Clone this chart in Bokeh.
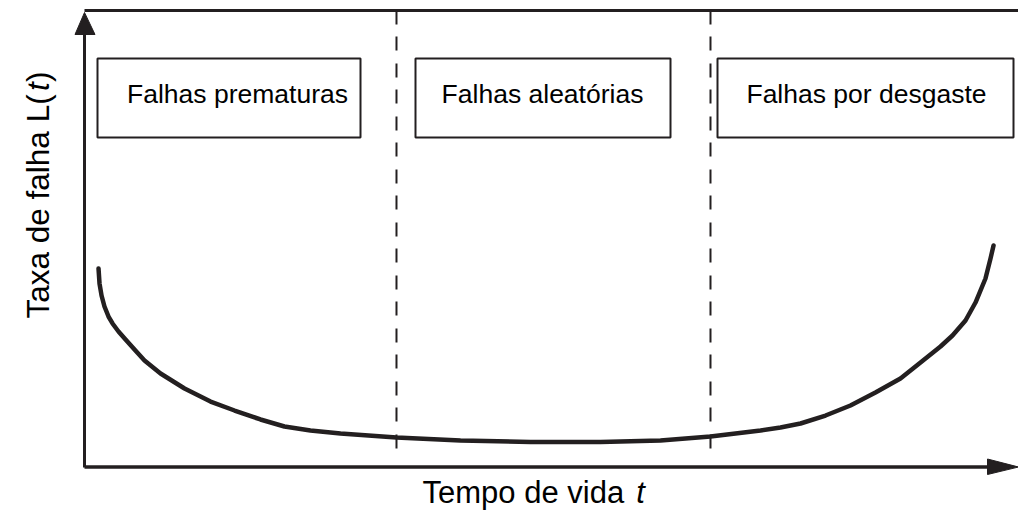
import numpy as np
from bokeh.plotting import figure
from bokeh.models import Range1d, Label
from bokeh.embed import file_html
from bokeh.resources import INLINE

# ---------------- data ----------------
time_t = [0.153, 0.164, 0.186, 0.218, 0.262, 0.306, 0.371, 0.448, 0.546, 0.655,
          0.830, 1.092, 1.376, 1.638, 1.921, 2.183, 2.467, 2.795, 3.406, 4.105,
          4.869, 5.633, 6.288, 6.834, 7.380, 7.598, 7.817, 8.090, 8.362, 8.635,
          8.908, 9.127, 9.345, 9.476, 9.618, 9.727, 9.836, 9.891, 9.924]
failure_rate = [4.342, 4.013, 3.750, 3.509, 3.289, 3.136, 2.961, 2.785, 2.566, 2.325,
                2.039, 1.711, 1.425, 1.228, 1.031, 0.877, 0.789, 0.724, 0.636, 0.570,
                0.537, 0.537, 0.570, 0.658, 0.789, 0.855, 0.943, 1.118, 1.338, 1.623,
                1.930, 2.281, 2.632, 2.873, 3.202, 3.596, 4.123, 4.561, 4.846]
phase_names = ["Falhas prematuras", "Falhas aleatórias", "Falhas por desgaste"]
phase_bounds = [3.406, 6.834]
x_title = "Tempo de vida"
y_title = "Taxa de falha L("
var_name = "t"

# ---------------- layout (page pixels -> data units) ----------------
W, H = 1018, 516
PAGE_L, PAGE_T = 0, 0
X0_PX, XSCALE = 84.0, 91.6     # t = 0 at page x 84
Y0_PX, YSCALE = 466.0, 45.6    # L = 0 at page y 466


def X(px):
    return (px - X0_PX) / XSCALE


def Y(py):
    return (Y0_PX - py) / YSCALE


INK = "#231f20"
FONT = "Liberation Sans"

p = figure(width=W, height=H,
           x_range=Range1d(X(PAGE_L), X(PAGE_L + W)),
           y_range=Range1d(Y(PAGE_T + H), Y(PAGE_T)),
           output_backend="svg", toolbar_location=None,
           x_axis_location=None, y_axis_location=None, min_border=0)
p.grid.visible = False
p.outline_line_color = None
p.background_fill_color = "white"
p.border_fill_color = "white"

# frame lines: top rule, y axis, x axis
p.line([X(84), X(1018)], [Y(10), Y(10)], line_color=INK, line_width=3)
p.line([X(84), X(84)], [Y(467), Y(30)], line_color=INK, line_width=3)
p.line([X(84), X(990)], [Y(466.5), Y(466.5)], line_color=INK, line_width=3.5)
# arrow heads
p.patch([X(74.5), X(84), X(94.5)], [Y(34), Y(12), Y(34)], color=INK, line_width=1)
p.patch([X(987), X(1018), X(987)], [Y(458.5), Y(466.5), Y(474)], color=INK, line_width=1)

# phase boundaries (dashed)
for b in phase_bounds:
    p.line([b, b], [Y(10), Y(452)], line_color=INK, line_width=2, line_dash="14 12 14 13")

# phase boxes
box_l = [X(97), X(415), X(717)]
box_r = [X(360), X(670), X(1013)]
p.quad(left=box_l, right=box_r, top=[Y(58)] * 3, bottom=[Y(137)] * 3,
       fill_color="white", line_color=INK, line_width=2)
text_cx = [X(237), X(542), X(866)]
for name, cx in zip(phase_names, text_cx):
    p.add_layout(Label(x=cx, y=Y(93), text=name, text_font=FONT,
                       text_font_size="26.5px", text_color="black",
                       text_align="center", text_baseline="alphabetic"))

# bathtub curve
p.line(time_t, failure_rate, line_color=INK, line_width=4.5, line_join="round", line_cap="round")

# axis titles (with italic variable)
FSX = 31
XM = 492
p.add_layout(Label(x=X(422), y=Y(XM), text=x_title, text_font=FONT,
                   text_font_size=f"{FSX}px", text_color="black",
                   text_align="left", text_baseline="middle"))
p.add_layout(Label(x=X(422 + 6.892 * FSX), y=Y(XM), text=var_name, text_font=FONT,
                   text_font_style="italic", text_font_size=f"{FSX}px", text_color="black",
                   text_align="left", text_baseline="middle"))

FS = 31.5
w1 = 7.226 * FS
wt = 0.278 * FS
p.add_layout(Label(x=X(37), y=Y(318), text=y_title, text_font=FONT, angle=np.pi / 2,
                   text_font_size=f"{FS}px", text_color="black",
                   text_align="left", text_baseline="alphabetic"))
p.add_layout(Label(x=X(37), y=Y(318 - w1), text=var_name, text_font=FONT, angle=np.pi / 2,
                   text_font_style="italic", text_font_size=f"{FS}px", text_color="black",
                   text_align="left", text_baseline="alphabetic"))
p.add_layout(Label(x=X(37), y=Y(318 - w1 - wt), text=")", text_font=FONT, angle=np.pi / 2,
                   text_font_size=f"{FS}px", text_color="black",
                   text_align="left", text_baseline="alphabetic"))

open("out.html", "w").write(file_html(p, INLINE))
